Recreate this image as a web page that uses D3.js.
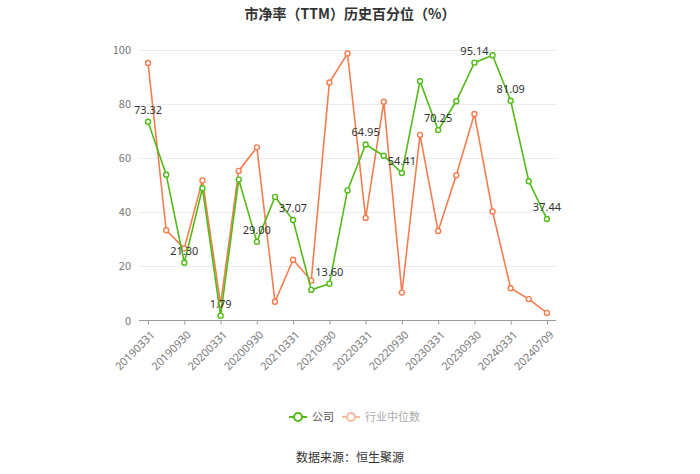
<!DOCTYPE html>
<html>
<head>
<meta charset="utf-8">
<script src="https://cdn.jsdelivr.net/npm/d3@7/dist/d3.min.js"></script>
<style>
body{margin:0;background:#fff;font-family:"Noto Sans CJK SC","Noto Sans",sans-serif;}
</style>
</head>
<body>
<svg id="c" width="700" height="474"></svg>
<script>
const categories = ["20190331","20190630","20190930","20191231","20200331","20200630","20200930","20201231","20210331","20210630","20210930","20211231","20220331","20220630","20220930","20221231","20230331","20230630","20230930","20231231","20240331","20240630","20240709"];
const companyValues = [73.32,53.8,21.30,48.8,1.79,52.0,29.00,45.6,37.07,11.3,13.60,48.0,64.95,60.8,54.41,88.3,70.25,80.9,95.14,97.9,81.09,51.4,37.44];
const industryValues = [95.0,33.3,26.6,51.7,6.0,55.2,63.9,6.9,22.4,14.7,87.8,98.5,37.8,80.7,10.3,68.5,33.0,53.6,76.2,40.2,11.9,7.9,2.8];
const yTicks = [0,20,40,60,80,100];
const seriesNames = ["公司","行业中位数"];
const title = "市净率（TTM）历史百分位（%）";
const source = "数据来源：恒生聚源";

const green = "#52bb18", orange = "#f57d4f";
const svg = d3.select("#c");
const x = d3.scalePoint().domain(categories).range([139,556]).padding(0.5);
const y = d3.scaleLinear().domain([0,100]).range([320.5,49.5]);

// title
svg.append("text").attr("x",350).attr("y",19).attr("text-anchor","middle")
  .attr("font-size",14).attr("font-weight","bold").attr("fill","#333").text(title);

// grid
svg.append("g").selectAll("line").data(yTicks.filter(d=>d>0)).join("line")
  .attr("x1",139).attr("x2",556).attr("y1",d=>Math.round(y(d))+0.5).attr("y2",d=>Math.round(y(d))+0.5)
  .attr("stroke","#e9ecf0").attr("stroke-width",1);

// y labels
svg.append("g").selectAll("text").data(yTicks).join("text")
  .attr("x",131).attr("y",d=>y(d)+4).attr("text-anchor","end")
  .attr("font-size",11).attr("fill","#777").text(d=>d);

// x axis
const xAxis = d3.axisBottom(x).tickSize(4).tickValues(categories.filter((d,i)=>i%2===0));
const gx = svg.append("g").attr("transform","translate(0,320.5)").call(xAxis);
gx.select(".domain").attr("stroke","#999").attr("d","M139,0H556");
gx.selectAll(".tick line").attr("stroke","#999");
gx.selectAll(".tick text").attr("font-size",11).attr("fill","#777")
  .attr("font-family","'Noto Sans',sans-serif")
  .attr("text-anchor","end").attr("dx","0").attr("dy","0")
  .attr("transform","translate(2,10) rotate(-45)");

function drawSeries(vals,color){
  const line = d3.line().x((d,i)=>x(categories[i])).y(d=>y(d));
  svg.append("path").datum(vals).attr("d",line).attr("fill","none")
    .attr("stroke",color).attr("stroke-width",1.6);
  svg.append("g").selectAll("circle").data(vals).join("circle")
    .attr("cx",(d,i)=>x(categories[i])).attr("cy",d=>y(d)).attr("r",2.5)
    .attr("fill","#fff").attr("stroke",color).attr("stroke-width",1.4);
}
drawSeries(industryValues,orange);
drawSeries(companyValues,green);

// labels
svg.append("g").selectAll("text").data(companyValues.map((v,i)=>({v,i})).filter(d=>d.i%2===0)).join("text")
  .attr("x",d=>x(categories[d.i])).attr("y",d=>y(d.v)-8).attr("text-anchor","middle")
  .attr("font-size",11).attr("fill","#333").attr("font-family","'Noto Sans',sans-serif")
  .text(d=>d.v.toFixed(2));

// legend
const leg = [{name:seriesNames[0],color:green,text:"#555",x:289},{name:seriesNames[1],color:"#f7b9a0",text:"#aaa",x:342}];
leg.forEach(l=>{
  const g = svg.append("g");
  g.append("line").attr("x1",l.x).attr("x2",l.x+18).attr("y1",417).attr("y2",417).attr("stroke",l.color).attr("stroke-width",2);
  g.append("circle").attr("cx",l.x+9).attr("cy",417).attr("r",4).attr("fill","#fff").attr("stroke",l.color).attr("stroke-width",2);
  g.append("text").attr("x",l.x+23).attr("y",421).attr("font-size",11).attr("fill",l.text).text(l.name);
});

svg.append("text").attr("x",350).attr("y",462).attr("text-anchor","middle")
  .attr("font-size",12).attr("fill","#333").text(source);
</script>
</body>
</html>
